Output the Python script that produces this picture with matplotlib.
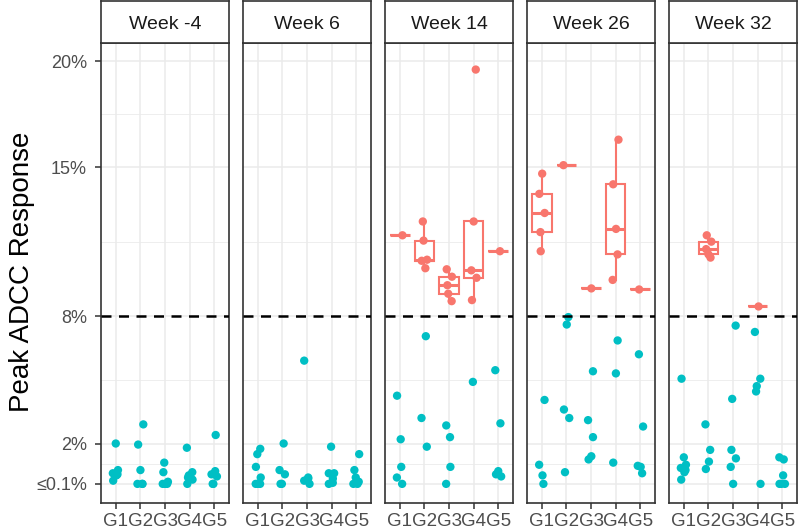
import numpy as np
import matplotlib
matplotlib.use("Agg")
import matplotlib.pyplot as plt

plt.rcParams['font.family'] = ['Liberation Sans', 'DejaVu Sans']

# ---- data (percent) ----
weeks = ["Week -4", "Week 6", "Week 14", "Week 26", "Week 32"]
groups = ["G1", "G2", "G3", "G4", "G5"]

week_m4 = [
    [2.0, 0.75, 0.6, 0.55, 0.5, 0.25],
    [2.9, 1.95, 0.75, 0.1, 0.1, 0.1],
    [1.1, 0.65, 0.2, 0.1, 0.1, 0.1],
    [1.8, 0.65, 0.5, 0.4, 0.3, 0.1],
    [2.4, 0.7, 0.55, 0.45, 0.1, 0.1],
]
week_6 = [
    [1.75, 1.5, 0.9, 0.4, 0.1, 0.1, 0.1],
    [2.0, 0.75, 0.55, 0.1, 0.1],
    [5.9, 0.4, 0.35, 0.25, 0.1],
    [1.85, 0.6, 0.6, 0.35, 0.15, 0.1],
    [1.5, 0.75, 0.4, 0.2, 0.1, 0.1],
]
week_14 = [
    [11.8, 4.25, 2.2, 0.9, 0.4, 0.1],
    [12.45, 11.55, 10.65, 10.6, 10.25, 7.05, 3.2, 1.85],
    [10.2, 9.85, 9.45, 9.05, 8.7, 2.85, 2.3, 0.9, 0.1],
    [19.6, 12.45, 10.15, 9.8, 8.75, 4.9],
    [11.05, 5.45, 2.95, 0.7, 0.55, 0.45],
]
week_26 = [
    [14.7, 13.75, 12.85, 11.95, 11.05, 4.05, 1.0, 0.5, 0.1],
    [15.1, 7.95, 7.6, 3.6, 3.2, 0.65],
    [9.3, 5.4, 3.1, 2.3, 1.4, 1.25],
    [16.3, 14.2, 12.1, 10.9, 9.7, 6.85, 5.3, 1.1],
    [9.25, 6.2, 2.8, 0.95, 0.9, 0.6],
]
week_32 = [
    [5.05, 1.35, 1.0, 0.85, 0.75, 0.65, 0.3],
    [11.8, 11.5, 11.15, 10.9, 10.75, 2.9, 1.7, 1.15, 0.8],
    [7.55, 4.1, 1.7, 1.3, 0.9, 0.1],
    [8.45, 7.25, 5.05, 4.7, 4.45, 0.1],
    [1.35, 1.25, 0.5, 0.1, 0.1, 0.1],
]
all_weeks = [week_m4, week_6, week_14, week_26, week_32]

threshold = 8
y_ticks = [0.1, 2, 8, 15, 20]
y_labels = ["\u22640.1%", "2%", "8%", "15%", "20%"]
y_minor = [1.05, 5, 11.5, 17.5]

SALMON = "#F8766D"
CYAN = "#00BFC4"
GRID = "#EBEBEB"
BORDER = "#333333"

W, H = 800, 532
fig = plt.figure(figsize=(W / 100, H / 100), dpi=100)

left0, pw, gap = 101, 128, 14
top, bottom, strip_top = 43, 503, 1

for k, (wk, data) in enumerate(zip(weeks, all_weeks)):
    x0 = left0 + k * (pw + gap)
    ax = fig.add_axes([x0 / W, 1 - bottom / H, pw / W, (bottom - top) / H])
    sax = fig.add_axes([x0 / W, 1 - top / H, pw / W, (top - strip_top) / H])

    # strip
    sax.set_xticks([]); sax.set_yticks([])
    for s in sax.spines.values():
        s.set_color(BORDER); s.set_linewidth(1.2)
    sax.text(0.5, 0.45, wk, ha="center", va="center", fontsize=14, color="#1A1A1A",
             transform=sax.transAxes)

    # grid
    for yv in y_ticks:
        ax.axhline(yv, color=GRID, lw=1.1, zorder=0)
    for yv in y_minor:
        ax.axhline(yv, color=GRID, lw=0.6, zorder=0)
    for gi in range(len(groups)):
        ax.axvline(gi + 1, color=GRID, lw=1.1, zorder=0)

    for gi, vals in enumerate(data):
        vals = np.array(vals)
        pos = gi + 1
        high = vals[vals > threshold]
        if len(high):
            ax.boxplot(high, positions=[pos], widths=0.8, patch_artist=True,
                       showcaps=False, showfliers=False, manage_ticks=False,
                       boxprops=dict(facecolor="white", edgecolor=SALMON, linewidth=1.5),
                       whiskerprops=dict(color=SALMON, linewidth=1.5),
                       medianprops=dict(color=SALMON, linewidth=2.2),
                       zorder=3)
        # deterministic jitter
        n = len(vals)
        jit = 0.12 * np.sin(np.arange(n) * 2.3 + gi * 1.7 + k)
        cols = [SALMON if v > threshold else CYAN for v in vals]
        ax.scatter(pos + jit, vals, s=36, c=cols, zorder=4, linewidths=0)

    ax.axhline(threshold, color="black", lw=1.8, ls=(0, (4, 3)), zorder=5)

    ax.set_xlim(0.4, 5.6)
    ax.set_ylim(-0.8, 20.85)
    ax.set_xticks(range(1, len(groups) + 1))
    ax.set_xticklabels(groups, fontsize=13.5, color="#4D4D4D")
    ax.set_yticks(y_ticks)
    ax.tick_params(axis="both", direction="out", length=4, width=1.1,
                   color=BORDER)
    ax.tick_params(axis="x", pad=3)
    if k == 0:
        ax.set_yticklabels(y_labels, fontsize=13, color="#4D4D4D")
        ax.tick_params(axis="y", pad=6)
    else:
        ax.set_yticklabels([])
        ax.tick_params(axis="y", length=0)
    for s in ax.spines.values():
        s.set_color(BORDER); s.set_linewidth(1.2)

fig.text(22 / W, 1 - 272 / H, "Peak ADCC Response", rotation=90, ha="center",
         va="center", fontsize=20)

fig.savefig("out.png", dpi=100)
